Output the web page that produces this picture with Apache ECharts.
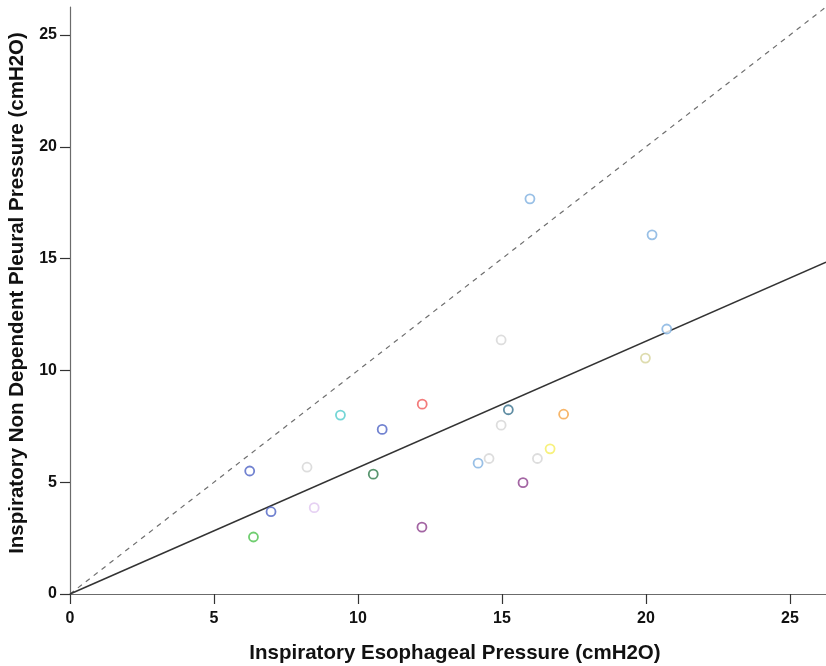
<!DOCTYPE html>
<html>
<head>
<meta charset="utf-8">
<script src="https://cdn.jsdelivr.net/npm/echarts@6/dist/echarts.min.js"></script>
<style>
html,body{margin:0;padding:0;background:#fff;}
#chart{width:826px;height:666px;}
</style>
</head>
<body>
<div id="chart"></div>
<script>
// Data
const esophageal = [6.24, 6.98, 6.37, 8.23, 8.48, 9.39, 10.84, 10.53, 12.23, 12.22, 14.97, 15.22, 14.97, 17.14, 14.17, 14.55, 16.23, 16.67, 15.73, 19.98, 20.72, 15.97, 20.21];
const pleural    = [5.50, 3.68, 2.55, 5.67, 3.86, 8.00, 7.36, 5.36, 8.49, 2.99, 11.36, 8.24, 7.55, 8.04, 5.85, 6.06, 6.06, 6.49, 4.98, 10.55, 11.85, 17.67, 16.06];
const tickValues = [0, 5, 10, 15, 20, 25];
const axisMax = 26.25;
const xTitle = 'Inspiratory Esophageal Pressure (cmH2O)';
const yTitle = 'Inspiratory Non Dependent Pleural Pressure (cmH2O)';

// Style: one colour per point (patient)
const pointColors = ['#4d63c4','#4d63c4','#4cc24c','#d4d4d4','#e0c6f0','#52cccc','#4d63c4','#2e7a4a','#f05a5a','#8c3f8c','#d4d4d4','#37708c','#d4d4d4','#f5a445','#80b0e0','#d4d4d4','#d4d4d4','#f5ee5e','#8c3f8c','#d6d39a','#80b0e0','#80b0e0','#80b0e0'];

// Fit line through origin (least squares)
let sxy = 0, sxx = 0;
for (let i = 0; i < esophageal.length; i++) { sxy += esophageal[i] * pleural[i]; sxx += esophageal[i] * esophageal[i]; }
const slope = sxy / sxx;

const font = "'Liberation Sans', Arial, sans-serif";
const points = esophageal.map((x, i) => ({ value: [x, pleural[i]], itemStyle: { borderColor: pointColors[i] } }));

const axisCommon = {
  type: 'value', min: 0, max: axisMax,
  splitLine: { show: false },
  axisLine: { show: true, onZero: false, lineStyle: { color: '#6b6b6b', width: 1.2 } },
  axisTick: { show: true, length: 10, lineStyle: { color: '#333', width: 1.2 }, customValues: tickValues },
  nameLocation: 'middle'
};
const labelStyle = { customValues: tickValues, fontFamily: font, fontWeight: 'bold', fontSize: 16, color: '#111' };
const nameStyle = { fontFamily: font, fontWeight: 'bold', fontSize: 20.5, color: '#111', padding: [0, 0, 0, 14] };

const chart = echarts.init(document.getElementById('chart'), null, { renderer: 'canvas' });
chart.setOption({
  animation: false,
  backgroundColor: '#fff',
  grid: { left: 70, right: 0, top: 7, bottom: 72, containLabel: false, outerBoundsMode: 'none' },
  xAxis: Object.assign({}, axisCommon, {
    name: xTitle, nameGap: 49,
    nameTextStyle: nameStyle,
    axisLabel: Object.assign({ margin: 17 }, labelStyle)
  }),
  yAxis: Object.assign({}, axisCommon, {
    name: yTitle, nameGap: 40,
    nameTextStyle: Object.assign({}, nameStyle, { padding: [0, 0, 0, 15] }),
    axisLabel: Object.assign({ margin: 13 }, labelStyle)
  }),
  series: [
    {
      type: 'line', data: [[0, 0], [axisMax, axisMax]], symbol: 'none', silent: true,
      lineStyle: { color: '#6f6f6f', width: 1.2, type: [5, 5] }, z: 1
    },
    {
      type: 'line', data: [[0, 0], [axisMax, slope * axisMax]], symbol: 'none', silent: true,
      lineStyle: { color: '#333', width: 1.5 }, z: 2
    },
    {
      type: 'scatter', data: points, symbol: 'circle', symbolSize: 9,
      itemStyle: { color: '#fff', borderWidth: 1.8 }, z: 3
    }
  ]
});
</script>
</body>
</html>
